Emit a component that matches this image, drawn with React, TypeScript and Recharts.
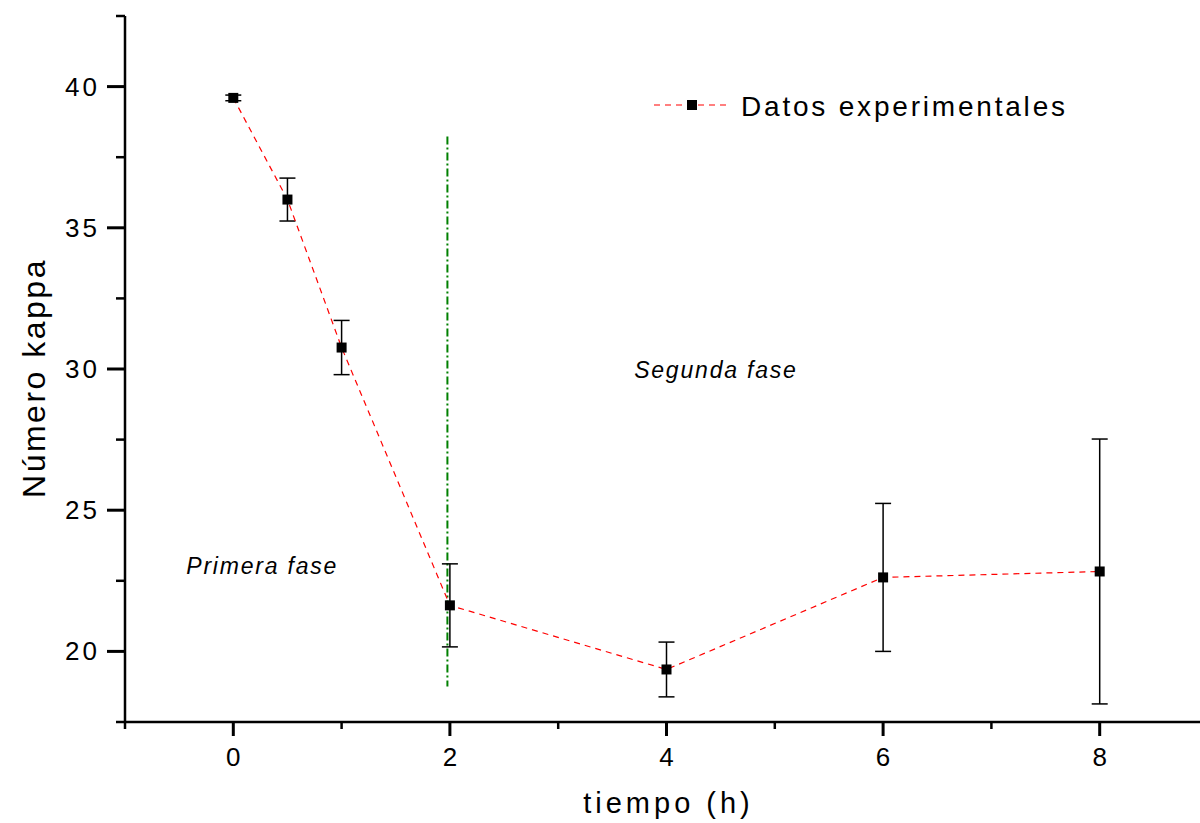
import React from 'react';
import { LineChart, Line, XAxis, YAxis, ErrorBar, ReferenceLine, ReferenceDot, Legend } from 'recharts';

const tiempo = [0, 0.5, 1, 2, 4, 6, 8];
const kappa = [39.6, 36.0, 30.76, 21.63, 19.36, 22.62, 22.83];
const kappaErr = [0.1, 0.76, 0.96, 1.47, 0.97, 2.62, 4.69];

const xMajorTicks = [0, 2, 4, 6, 8];
const xMinorTicks = [-1, 1, 3, 5, 7, 9];
const yMajorTicks = [20, 25, 30, 35, 40];
const yMinorTicks = [17.5, 22.5, 27.5, 32.5, 37.5, 42.5];

const phaseBoundaryX = 1.977;
const phaseBoundaryY = [38.23, 18.76];

const phaseLabels = ['Primera fase', 'Segunda fase'];
const phaseLabelX = [0.258, 4.447];
const phaseLabelY = [23.04, 29.96];

const seriesName = 'Datos experimentales';
const xTitle = 'tiempo (h)';
const yTitle = 'Número kappa';

const data = tiempo.map((t, i) => ({ t, kappa: kappa[i], err: kappaErr[i] }));
const xTicks = [...xMinorTicks, ...xMajorTicks].sort((a, b) => a - b);
const yTicks = [...yMinorTicks, ...yMajorTicks].sort((a, b) => a - b);

const FONT = '"Liberation Sans", Arial, Helvetica, sans-serif';

const XTick = (props: any) => {
  const { x, y, payload } = props;
  const major = xMajorTicks.includes(payload.value);
  return (
    <g>
      <line x1={x} x2={x} y1={y} y2={y + (major ? 14 : 7)} stroke="#000" strokeWidth={major ? 3 : 2.5} />
      {major && (
        <text x={x + 1.5} y={y + 44} textAnchor="middle" fontSize={26} letterSpacing={3} fontFamily={FONT} fill="#000">
          {payload.value}
        </text>
      )}
    </g>
  );
};

const YTick = (props: any) => {
  const { x, y, payload } = props;
  const major = yMajorTicks.includes(payload.value);
  return (
    <g>
      <line x1={x} x2={x - (major ? 18 : 9)} y1={y} y2={y} stroke="#000" strokeWidth={major ? 3 : 2.5} />
      {major && (
        <text x={x - 25} y={y + 9} textAnchor="end" fontSize={26} letterSpacing={3} fontFamily={FONT} fill="#000">
          {payload.value}
        </text>
      )}
    </g>
  );
};

const SquareDot = (p: any) => {
  if (p.cx == null || p.cy == null) return <g />;
  return <rect x={p.cx - 5} y={p.cy - 5} width={10} height={10} fill="#000" />;
};

const makePhaseLabel = (txt: string) => (p: any) => {
  const vb = p.viewBox || {};
  const cx = (vb.x ?? 0) + (vb.width ?? 0) / 2;
  const cy = (vb.y ?? 0) + (vb.height ?? 0) / 2;
  return (
    <text x={cx + 1} y={cy + 8} textAnchor="middle" fontSize={23} fontStyle="italic" letterSpacing={1.8} fontFamily={FONT} fill="#000">
      {txt}
    </text>
  );
};

const XTitle = (p: any) => {
  const vb = p.viewBox || {};
  return (
    <text x={vb.x + vb.width / 2 + 2} y={vb.y + 91} textAnchor="middle" fontSize={29} letterSpacing={4} fontFamily={FONT} fill="#000">
      {xTitle}
    </text>
  );
};

const YTitle = (p: any) => {
  const vb = p.viewBox || {};
  const cy = vb.y + vb.height / 2 + 9;
  return (
    <text transform={`translate(${vb.x + 45},${cy}) rotate(-90)`} textAnchor="middle" fontSize={32} letterSpacing={2.5} fontFamily={FONT} fill="#000">
      {yTitle}
    </text>
  );
};

const LegendContent = () => (
  <svg width={460} height={44} style={{ display: 'block', overflow: 'visible' }}>
    <line x1={4} x2={81} y1={20} y2={20} stroke="#ff0000" strokeWidth={1.2} strokeDasharray="6 5" />
    <rect x={37} y={15} width={10} height={10} fill="#000" />
    <text x={91} y={31} fontSize={28} letterSpacing={2.8} fontFamily={FONT} fill="#000">
      {seriesName}
    </text>
  </svg>
);

export default function App() {
  return (
    <div style={{ position: 'fixed', left: 0, top: 0, width: 1200, height: 823, overflow: 'hidden', background: '#fff' }}>
      <LineChart width={1222} height={823} data={data} margin={{ top: 16, right: 14, bottom: 0, left: 0 }}>
        <XAxis
          xAxisId="bottom"
          dataKey="t"
          type="number"
          domain={[-1, 9]}
          ticks={xTicks}
          interval={0}
          tick={XTick}
          tickLine={false}
          tickSize={0}
          tickMargin={0}
          height={101}
          allowDataOverflow
          axisLine={{ stroke: '#000', strokeWidth: 2.5 }}
          label={{ content: XTitle }}
        />
        <XAxis
          xAxisId="top"
          orientation="top"
          type="number"
          dataKey="t"
          domain={[-1, 9]}
          height={0}
          tick={false}
          tickLine={false}
          allowDataOverflow
          axisLine={{ stroke: '#000', strokeWidth: 2.5 }}
        />
        <YAxis
          yAxisId="left"
          type="number"
          domain={[17.5, 42.5]}
          ticks={yTicks}
          interval={0}
          tick={YTick}
          tickLine={false}
          tickSize={0}
          tickMargin={0}
          width={125}
          allowDataOverflow
          axisLine={{ stroke: '#000', strokeWidth: 2.5 }}
          label={{ content: YTitle }}
        />
        <ReferenceLine
          xAxisId="bottom"
          yAxisId="left"
          segment={[
            { x: phaseBoundaryX, y: phaseBoundaryY[0] },
            { x: phaseBoundaryX, y: phaseBoundaryY[1] },
          ]}
          stroke="#008000"
          strokeWidth={2}
          strokeDasharray="8 3 2 3"
        />
        {phaseLabels.map((txt, i) => (
          <ReferenceDot
            key={txt}
            xAxisId="bottom"
            yAxisId="left"
            x={phaseLabelX[i]}
            y={phaseLabelY[i]}
            r={1}
            fill="none"
            stroke="none"
            label={makePhaseLabel(txt)}
          />
        ))}
        <Line
          xAxisId="bottom"
          yAxisId="left"
          type="linear"
          dataKey="kappa"
          name={seriesName}
          stroke="#ff0000"
          strokeWidth={1.2}
          strokeDasharray="6 5"
          dot={SquareDot}
          activeDot={false}
          isAnimationActive={false}
        >
          <ErrorBar dataKey="err" width={8} stroke="#000" strokeWidth={1.5} direction="y" isAnimationActive={false} />
        </Line>
        <Legend
          layout="horizontal"
          verticalAlign="middle"
          align="center"
          content={LegendContent}
          wrapperStyle={{ position: 'absolute', left: 650, top: 85, width: 460, height: 44 }}
        />
      </LineChart>
    </div>
  );
}
